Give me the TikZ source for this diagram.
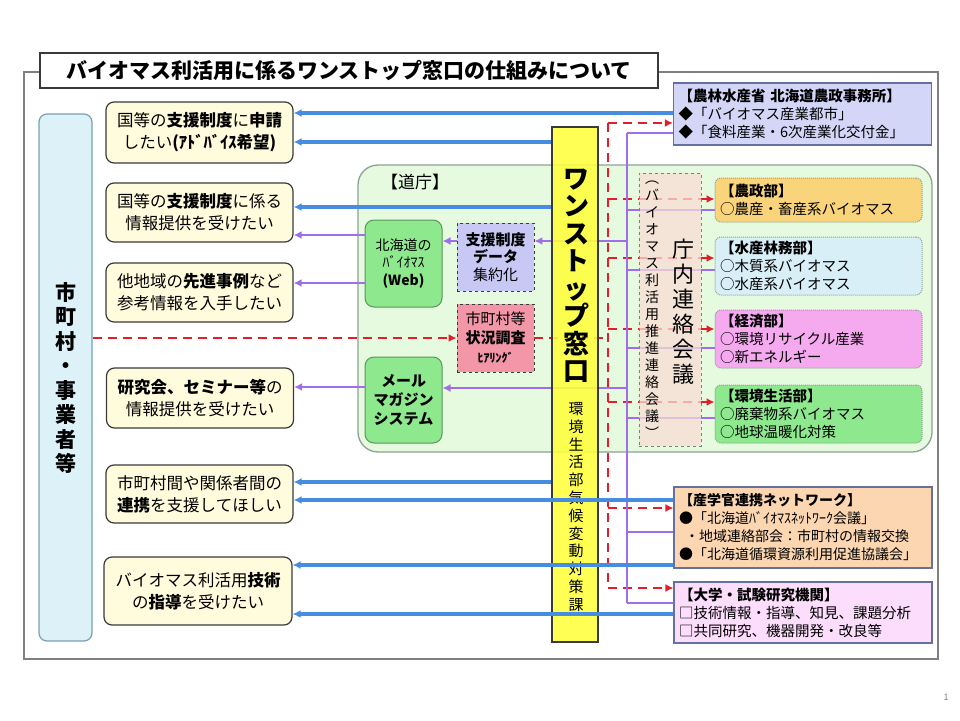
\documentclass[tikz,border=0pt]{standalone}
\usepackage{fontspec}
\setmainfont{Noto Sans CJK JP}
\usetikzlibrary{arrows.meta}
\definecolor{flowframe}{RGB}{128,128,128}
\definecolor{flowdark}{RGB}{58,58,58}
\definecolor{flowneed}{RGB}{255,252,222}
\definecolor{flowcity}{RGB}{220,242,248}
\definecolor{flowcityline}{RGB}{120,160,178}
\definecolor{flowdo}{RGB}{230,250,224}
\definecolor{flowdoline}{RGB}{140,162,150}
\definecolor{flowgreen}{RGB}{142,232,142}
\definecolor{flowgreenline}{RGB}{90,150,90}
\definecolor{flowlav}{RGB}{200,200,245}
\definecolor{flowpink}{RGB}{242,150,168}
\definecolor{flowyellow}{RGB}{255,255,60}
\definecolor{flowsalmon}{RGB}{248,221,213}
\definecolor{flowmaff}{RGB}{212,214,248}
\definecolor{flowmaffline}{RGB}{100,112,160}
\definecolor{flowagri}{RGB}{250,212,122}
\definecolor{flowforest}{RGB}{216,239,248}
\definecolor{floweco}{RGB}{245,170,240}
\definecolor{flownet}{RGB}{251,214,176}
\definecolor{flowuni}{RGB}{252,222,252}
\definecolor{flowblue}{RGB}{70,140,225}
\definecolor{flowpurple}{RGB}{160,110,232}
\definecolor{flowred}{RGB}{226,30,40}
\tikzset{
  need box/.style={
    draw=flowdark,
    fill=flowneed,
    rounded corners=8pt,
    line width=1.2pt,
    inner sep=0pt,
    align=center,
    minimum width=187pt,
    font=\fontsize{16.5}{22}\selectfont,
  },
  inner box/.style={
    rounded corners=9pt,
    line width=1pt,
    inner sep=0pt,
    align=center,
    minimum width=77pt,
  },
  task box/.style={
    draw=flowdark,
    dashed,
    line width=0.9pt,
    inner sep=0pt,
    align=center,
    minimum width=77pt,
    minimum height=68pt,
  },
  dept box/.style={
    draw=flowdoline,
    densely dotted,
    rounded corners=6pt,
    line width=1pt,
    inner xsep=5pt,
    inner ysep=0pt,
    text width=197pt,
    align=left,
    font=\fontsize{14.5}{18}\selectfont,
  },
  org box/.style={
    line width=1.1pt,
    inner xsep=5pt,
    inner ysep=0pt,
    text width=248pt,
    align=left,
    font=\fontsize{14.5}{18}\selectfont,
  },
  blue arrow/.style={
    -{Latex[length=8pt,width=8pt]},
    line width=3.2pt,
    draw=flowblue,
  },
  purple arrow/.style={
    -{Latex[length=8pt,width=8pt]},
    line width=2.6pt,
    draw=flowpurple,
  },
  purple line/.style={
    line width=1.5pt,
    draw=flowpurple,
  },
  red link/.style={
    line width=2.6pt,
    draw=flowred,
    dash pattern=on 9pt off 6pt,
  },
}

\begin{document}
\begin{tikzpicture}[x=1pt,y=-1pt]
  \useasboundingbox (0,0) rectangle (960,720);
  % outer frame and title
  \draw[flowframe, line width=1.3pt] (24,72) rectangle (938,659);
  \node[draw=flowdark, fill=white, line width=1.4pt, minimum width=618pt, minimum height=35pt,
    inner sep=0pt, font=\fontsize{21}{24}\selectfont\bfseries] (title) at (349,70.5)
    {バイオマス利活用に係るワンストップ窓口の仕組みについて};

  % left side
  \node[draw=flowcityline, fill=flowcity, rounded corners=8pt, line width=1.2pt,
    minimum width=53pt, minimum height=527pt, inner sep=0pt] (city) at (65.5,377.5) {};
  \node[align=center, font=\fontsize{21}{24.5}\selectfont\bfseries] (citytext) at (65.5,378)
    {市\\町\\村\\・\\事\\業\\者\\等};

  \node[need box, minimum height=61pt] (req) at (199.5,132.5)
    {国等の\textbf{支援制度}に\textbf{申請}\\したい\textbf{(ｱﾄﾞﾊﾞｲｽ希望)}};
  \node[need box, minimum height=59pt] (info) at (199.5,212.5)
    {国等の\textbf{支援制度}に係る\\情報提供を受けたい};
  \node[need box, minimum height=59pt] (case) at (199.5,292.5)
    {他地域の\textbf{先進事例}など\\参考情報を入手したい};
  \node[need box, minimum height=60pt] (seminar) at (200,398)
    {\textbf{研究会、セミナー等}の\\情報提供を受けたい};
  \node[need box, minimum height=58pt] (link) at (199.5,494)
    {市町村間や関係者間の\\\textbf{連携}を支援してほしい};
  \node[need box, minimum width=188pt, minimum height=68pt] (tech) at (198,591)
    {バイオマス利活用\textbf{技術}\\の\textbf{指導}を受けたい};

  % Hokkaido government
  \node[draw=flowdoline, fill=flowdo, rounded corners=20pt, line width=1.3pt,
    minimum width=574pt, minimum height=287pt, inner sep=0pt] (dochou) at (645,308.5) {};
  \node[font=\fontsize{17}{20}\selectfont] (dochoulabel) at (415,182) {【道庁】};
  \node[inner box, draw=flowgreenline, fill=flowgreen, minimum height=87pt,
    font=\fontsize{14}{17.5}\selectfont] (web) at (403.5,263.5)
    {北海道の\\ﾊﾞｲｵﾏｽ\\\textbf{(Web)}};
  \node[inner box, draw=flowgreenline, fill=flowgreen, minimum height=86pt,
    font=\fontsize{15}{19}\selectfont\bfseries] (mail) at (403.5,400)
    {メール\\マガジン\\システム};
  \node[task box, fill=flowlav, font=\fontsize{15}{17.5}\selectfont] (data) at (495.5,257)
    {\textbf{支援制度}\\\textbf{データ}\\集約化};
  \node[task box, fill=flowpink, font=\fontsize{15}{19}\selectfont] (survey) at (495.5,338)
    {市町村等\\\textbf{状況調査}\\\textbf{\fontsize{12}{14}\selectfont ﾋｱﾘﾝｸﾞ}};

  % departments
  \node[dept box, fill=flowagri, minimum height=44pt] (nousei) at (818.5,200)
    {\textbf{【農政部】}\\○農産・畜産系バイオマス};
  \node[dept box, fill=flowforest, minimum height=58pt] (suisan) at (818.5,266)
    {\textbf{【水産林務部】}\\○木質系バイオマス\\○水産系バイオマス};
  \node[dept box, fill=floweco, minimum height=58pt] (keizai) at (818.5,339)
    {\textbf{【経済部】}\\○環境リサイクル産業\\○新エネルギー};
  \node[dept box, fill=flowgreen, minimum height=58pt] (kankyo) at (818.5,414)
    {\textbf{【環境生活部】}\\○廃棄物系バイオマス\\○地球温暖化対策};

  % outside organisations
  \node[org box, draw=flowmaffline, fill=flowmaff, minimum height=62pt] (nourin) at (802.5,114)
    {\textbf{【農林水産省\ 北海道農政事務所】}\\◆「バイオマス産業都市」\\◆「食料産業・6次産業化交付金」};
  \node[org box, draw=flowmaffline, fill=flownet, minimum height=81pt,
    font=\fontsize{14}{18}\selectfont] (sangaku) at (803,527.5)
    {\textbf{【産学官連携ネットワーク】}\\●「北海道ﾊﾞｲｵﾏｽﾈｯﾄﾜｰｸ会議」\\\hspace*{6pt}・地域連絡部会：市町村の情報交換\\●「北海道循環資源利用促進協議会」};
  \node[org box, draw=flowmaffline, fill=flowuni, minimum height=61pt] (daigaku) at (803,612.5)
    {\textbf{【大学・試験研究機関】}\\□技術情報・指導、知見、課題分析\\□共同研究、機器開発・改良等};

  % red and purple trunks
  \coordinate (rtrunk) at (608,0);
  \coordinate (ptrunk) at (627,0);
  \draw[red link,-{Latex[length=8pt,width=8pt]}] (city.east|-0,338) -- (survey.west|-0,338);
  \draw[red link] (survey.east|-0,338) -- (rtrunk|-0,338);
  \draw[red link] (rtrunk|-0,123) -- (rtrunk|-0,588);
  \foreach \y/\n in {123/nourin,199/nousei,258/suisan,329/keizai,402/kankyo,508/sangaku,588/daigaku}
    \draw[red link,-{Latex[length=8pt,width=8pt]}] (rtrunk|-0,\y) -- (\n.west|-0,\y);
  \draw[purple line] (ptrunk|-0,133) -- (ptrunk|-0,603);
  \foreach \y/\n in {133/nourin,210/nousei,270/suisan,348/keizai,418/kankyo,532/sangaku,603/daigaku}
    \draw[purple line] (ptrunk|-0,\y) -- (\n.west|-0,\y);
  \draw[purple arrow] (ptrunk|-0,241) -- (data.east|-0,241);
  \draw[purple arrow] (ptrunk|-0,388) -- (mail.east|-0,388);
  \draw[purple arrow] (data.west|-0,241) -- (web.east|-0,241);

  % liaison council
  \node[draw=flowframe, dashed, fill=flowsalmon, fill opacity=0.75, line width=0.9pt,
    minimum width=62pt, minimum height=273pt, inner sep=0pt] (renraku) at (670,309.5) {};
  \node[align=center, font=\fontsize{14}{17}\selectfont] (renrakusub) at (652,310)
    {︵\\バ\\イ\\オ\\マ\\ス\\利\\活\\用\\推\\進\\連\\絡\\会\\議\\︶};
  \node[align=center, font=\fontsize{22}{25}\selectfont] (renrakutext) at (683,312)
    {庁\\内\\連\\絡\\会\\議};

  % one-stop window
  \node[draw=flowdark, fill=flowyellow, fill opacity=0.88, line width=1.2pt,
    minimum width=46pt, minimum height=515pt, inner sep=0pt] (window) at (575,384.5) {};
  \node[align=center, font=\fontsize{26}{27.5}\selectfont\bfseries] (windowtext) at (576,276)
    {ワ\\ン\\ス\\ト\\ッ\\プ\\窓\\口};
  \node[align=center, font=\fontsize{15}{17.8}\selectfont] (windowsub) at (576,507)
    {環\\境\\生\\活\\部\\気\\候\\変\\動\\対\\策\\課};

  % arrows to the needs
  \foreach \a/\b/\y in {nourin/req/113,window/req/142,window/info/207,window/link/482,
      sangaku/link/500,sangaku/tech/565,daigaku/tech/614}
    \draw[blue arrow] (\a.west|-0,\y) -- (\b.east|-0,\y);
  \draw[purple arrow] (web.west|-0,235) -- (info.east|-0,235);
  \draw[purple arrow] (web.west|-0,283) -- (case.east|-0,283);
  \draw[purple arrow] (mail.west|-0,387) -- (seminar.east|-0,387);

  \node[text=flowframe, font=\fontsize{9}{10}\selectfont] (pagenum) at (946,697) {1};
\end{tikzpicture}
\end{document}
